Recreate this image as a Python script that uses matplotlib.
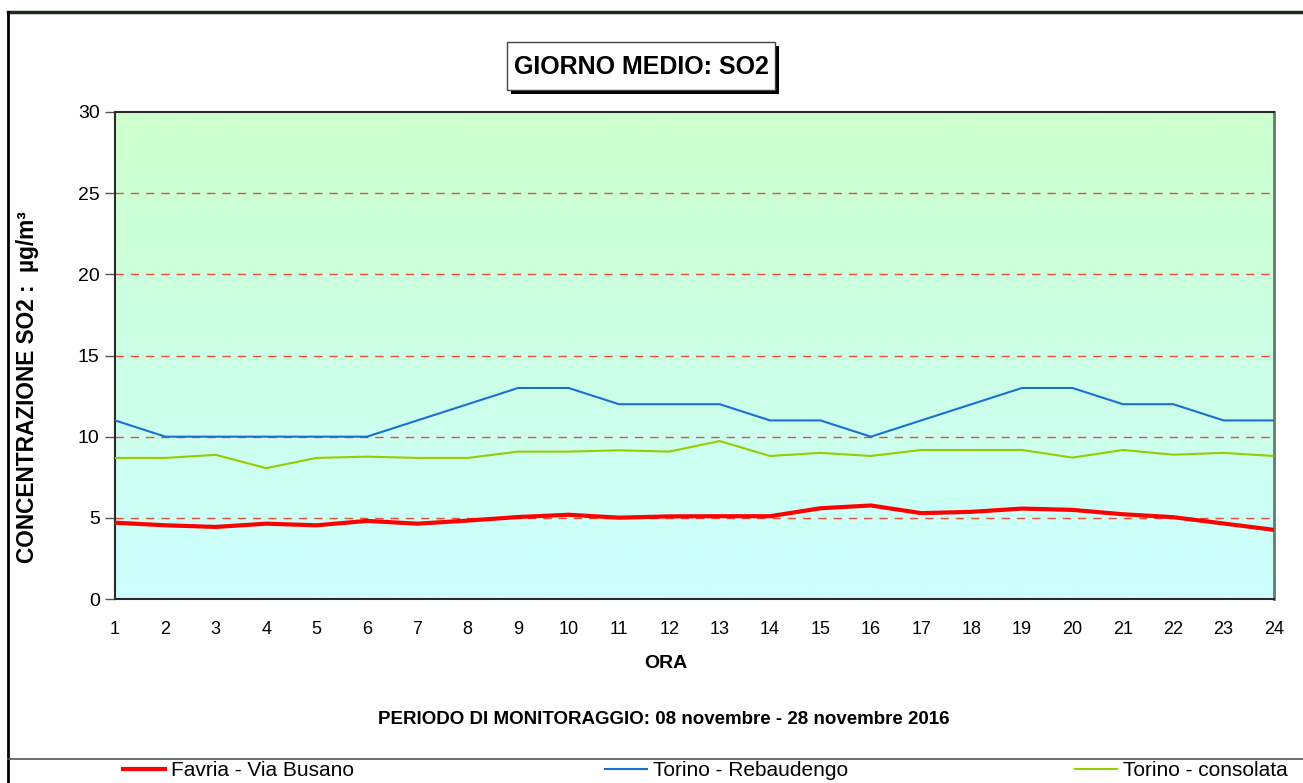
import numpy as np
import matplotlib.pyplot as plt
from matplotlib.lines import Line2D
from matplotlib.patches import Rectangle

plt.rcParams['font.family'] = ['Liberation Sans', 'DejaVu Sans']

ore = list(range(1, 25))
favria = [4.70, 4.54, 4.44, 4.64, 4.54, 4.81, 4.64, 4.83, 5.05, 5.19, 5.01, 5.09,
          5.10, 5.10, 5.59, 5.76, 5.29, 5.37, 5.57, 5.49, 5.22, 5.04, 4.65, 4.26]
rebaudengo = [11, 10, 10, 10, 10, 10, 11, 12, 13, 13, 12, 12,
              12, 11, 11, 10, 11, 12, 13, 13, 12, 12, 11, 11]
consolata = [8.69, 8.69, 8.88, 8.06, 8.69, 8.77, 8.69, 8.69, 9.08, 9.08, 9.16, 9.08,
             9.73, 8.81, 9.00, 8.81, 9.18, 9.18, 9.18, 8.71, 9.18, 8.89, 9.00, 8.81]
nomi = ['Favria - Via Busano', 'Torino - Rebaudengo', 'Torino - consolata']
yticks = [0, 5, 10, 15, 20, 25, 30]

W, H = 1303, 783
fig = plt.figure(figsize=(W / 100, H / 100), dpi=100)
ax = fig.add_axes([115 / W, 1 - 599 / H, (1274 - 115) / W, (599 - 112) / H])

# sfondo sfumato verde -> azzurro
grad = np.linspace(0, 1, 256).reshape(-1, 1)
top = np.array([204, 255, 204]) / 255
bot = np.array([204, 255, 255]) / 255
img = top[None, None, :] * (1 - grad[:, :, None]) + bot[None, None, :] * grad[:, :, None]
ax.imshow(img, extent=[0, 1, 0, 1], transform=ax.transAxes, aspect='auto', zorder=0)

for v in yticks[1:-1]:
    ax.axhline(v, color='#e8503a', lw=1, ls=(0, (6, 5)), zorder=1)

ax.plot(ore, consolata, color='#99cc00', lw=1.5, zorder=3)
ax.plot(ore, rebaudengo, color='#1a6fd0', lw=1.5, zorder=3)
ax.plot(ore, favria, color='#ff0000', lw=3, zorder=4)

ax.set_xlim(1, 24)
ax.set_ylim(0, 30)
ax.set_xticks(ore)
ax.set_yticks(yticks)
ax.tick_params(axis='x', length=0, pad=16, labelsize=13)
ax.tick_params(axis='y', direction='out', length=7, width=1, color='#555555', pad=4, labelsize=14)
for s in ['left', 'bottom', 'top']:
    ax.spines[s].set_color('#2a2a2a')
    ax.spines[s].set_linewidth(1.5)
ax.spines['right'].set_color('#5f7f6a')
ax.spines['right'].set_linewidth(2)

ax.set_xlabel('ORA', fontsize=14, fontweight='bold')
ax.xaxis.set_label_coords((666 - 115) / (1274 - 115), -(663 - 599) / (599 - 112))
ax.xaxis.label.set_va('center')
ax.set_ylabel('CONCENTRAZIONE SO2 :  µg/m³', fontsize=16.3, fontweight='bold')
ax.yaxis.set_label_coords(-(115 - 28) / (1274 - 115), (599 - 387) / (599 - 112))
ax.yaxis.label.set_va('center')

# titolo in riquadro con ombra
bx, by, bw, bh = 507, 42, 268, 48
fig.patches.append(Rectangle(((bx + 4) / W, 1 - (by + bh + 4) / H), bw / W, bh / H,
                             transform=fig.transFigure, facecolor='black', edgecolor='none', zorder=1))
fig.patches.append(Rectangle((bx / W, 1 - (by + bh) / H), bw / W, bh / H,
                             transform=fig.transFigure, facecolor='white', edgecolor='#444444', lw=1, zorder=2))
fig.text((bx + bw / 2) / W, 1 - (by + bh / 2 + 1) / H, 'GIORNO MEDIO: SO2',
         ha='center', va='center', fontsize=18, fontweight='bold', zorder=3)

fig.text(664 / W, 1 - 720 / H, 'PERIODO DI MONITORAGGIO: 08 novembre - 28 novembre 2016',
         ha='center', va='center', fontsize=13.5, fontweight='bold')

# cornice
fig.add_artist(Line2D([8 / W, 1], [1 - 12 / H, 1 - 12 / H], color='#1a2a1a', lw=2.5))
fig.add_artist(Line2D([8 / W, 8 / W], [0, 1 - 12 / H], color='black', lw=2))
fig.add_artist(Line2D([8 / W, 1], [1 - 759 / H, 1 - 759 / H], color='#555555', lw=1.2))

# legenda
colori = ['#ff0000', '#1a6fd0', '#99cc00']
spessori = [3, 1.5, 1.5]
pos_x = [123, 605, 1075]
for nome, c, lw, px in zip(nomi, colori, spessori, pos_x):
    fig.legend([Line2D([], [], color=c, lw=lw)], [nome], loc='center left',
               bbox_to_anchor=(px / W, 1 - 771 / H), frameon=False, fontsize=15,
               handlelength=2.0, handletextpad=0.3, borderaxespad=0, borderpad=0)

fig.savefig('out.png', dpi=100)
